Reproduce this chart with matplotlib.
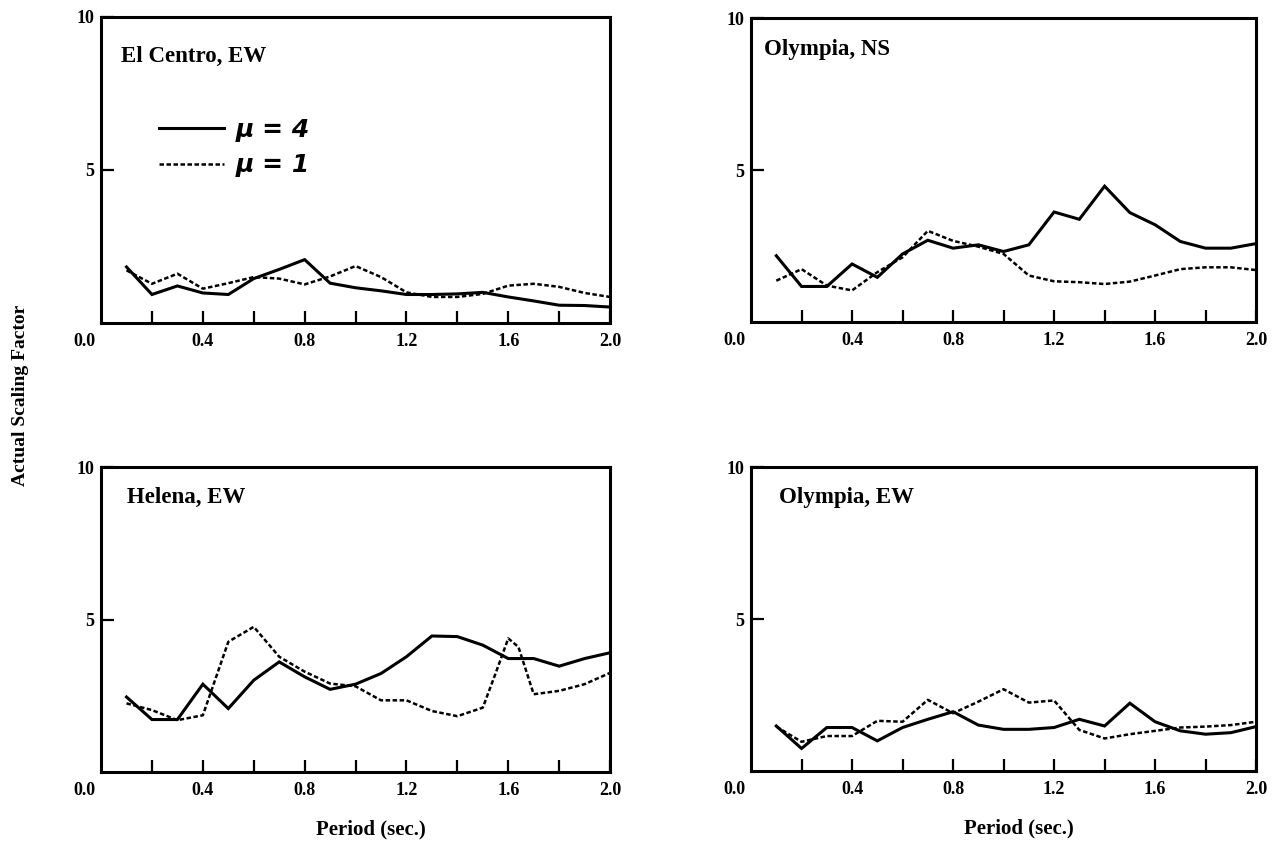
import matplotlib
matplotlib.use("Agg")
import matplotlib.pyplot as plt
from matplotlib.lines import Line2D

plt.rcParams['font.family'] = ['Liberation Serif', 'DejaVu Serif']

# periods (sec.) at which the scaling factors were computed
period = [0.1, 0.2, 0.3, 0.4, 0.5, 0.6, 0.7, 0.8, 0.9, 1.0,
          1.1, 1.2, 1.3, 1.4, 1.5, 1.6, 1.7, 1.8, 1.9, 2.0]

elcentro_mu4 = [1.83, 0.93, 1.21, 0.98, 0.93, 1.45, 1.75, 2.07, 1.30, 1.15,
                1.05, 0.93, 0.93, 0.95, 1.00, 0.85, 0.72, 0.58, 0.57, 0.52]
elcentro_mu1 = [1.72, 1.28, 1.61, 1.12, 1.30, 1.50, 1.45, 1.26, 1.52, 1.86,
                1.50, 1.00, 0.85, 0.85, 0.95, 1.22, 1.28, 1.18, 0.98, 0.85]

olyns_mu4 = [2.18, 1.17, 1.17, 1.91, 1.47, 2.24, 2.69, 2.43, 2.54, 2.32,
             2.54, 3.62, 3.38, 4.47, 3.60, 3.20, 2.65, 2.43, 2.43, 2.58]
olyns_mu1 = [1.36, 1.74, 1.20, 1.04, 1.64, 2.13, 3.00, 2.67, 2.48, 2.24,
             1.53, 1.34, 1.31, 1.25, 1.33, 1.53, 1.74, 1.80, 1.80, 1.71]

helena_mu4 = [2.46, 1.72, 1.72, 2.88, 2.08, 3.01, 3.61, 3.12, 2.71, 2.88,
              3.23, 3.78, 4.46, 4.44, 4.16, 3.72, 3.72, 3.47, 3.72, 3.91]
helena_period_mu1 = [0.1, 0.2, 0.3, 0.4, 0.5, 0.6, 0.7, 0.8, 0.9, 1.0, 1.1,
                     1.2, 1.3, 1.4, 1.5, 1.55, 1.6, 1.64, 1.7, 1.8, 1.9, 2.0]
helena_mu1 = [2.25, 2.03, 1.70, 1.86, 4.27, 4.76, 3.78, 3.29, 2.90, 2.81, 2.35,
              2.35, 2.00, 1.83, 2.11, 3.23, 4.38, 4.10, 2.55, 2.66, 2.88, 3.25]

olyew_mu4 = [1.48, 0.74, 1.43, 1.43, 0.99, 1.43, 1.70, 1.95, 1.51, 1.37,
             1.37, 1.43, 1.70, 1.48, 2.23, 1.62, 1.32, 1.21, 1.26, 1.46]
olyew_mu1 = [1.46, 0.96, 1.15, 1.15, 1.65, 1.62, 2.34, 1.90, 2.28, 2.69,
             2.25, 2.32, 1.35, 1.07, 1.21, 1.32, 1.43, 1.46, 1.51, 1.62]

panels = [
    ("El Centro, EW", period, elcentro_mu4, period, elcentro_mu1),
    ("Olympia, NS", period, olyns_mu4, period, olyns_mu1),
    ("Helena, EW", period, helena_mu4, helena_period_mu1, helena_mu1),
    ("Olympia, EW", period, olyew_mu4, period, olyew_mu1),
]

# axes boxes in figure fractions [left, bottom, width, height]
boxes = [
    [0.0792, 0.6196, 0.3989, 0.3604],
    [0.5886, 0.6207, 0.3958, 0.3580],
    [0.0792, 0.0907, 0.3989, 0.3592],
    [0.5886, 0.0919, 0.3958, 0.3580],
]
title_pos = [(0.04, 0.87), (0.025, 0.895), (0.05, 0.90), (0.055, 0.90)]

solid_kw = dict(color='black', lw=2.2, solid_joinstyle='miter')
dash_kw = dict(color='black', lw=1.8, linestyle=(0, (1.8, 1.0)))

fig = plt.figure(figsize=(12.76, 8.49), dpi=100)

for i, (name, x4, y4, x1, y1) in enumerate(panels):
    ax = fig.add_axes(boxes[i])
    ax.plot(x4, y4, **solid_kw)
    ax.plot(x1, y1, **dash_kw)

    ax.set_xlim(0, 2.0)
    ax.set_ylim(0, 10)
    for s in ax.spines.values():
        s.set_linewidth(2.2)

    ax.set_xticks([0.4, 0.8, 1.2, 1.6, 2.0])
    ax.set_xticklabels(['0.4', '0.8', '1.2', '1.6', '2.0'])
    ax.set_xticks([0.2, 0.6, 1.0, 1.4, 1.8], minor=True)
    ax.tick_params(axis='x', which='both', direction='in', length=9, width=1.6,
                   top=False, pad=7, labelsize=13)
    ax.set_yticks([5, 10])
    ax.set_yticklabels(['5', '10'])
    ax.tick_params(axis='y', direction='in', length=9, width=1.6,
                   right=False, pad=5, labelsize=13)
    for lab in ax.get_xticklabels() + ax.get_yticklabels():
        lab.set_fontweight('bold')

    # the 0.0 label sits left of the origin
    ax.text(-0.065, -0.062, '0.0', transform=ax.get_xaxis_transform(),
            ha='center', va='center', fontsize=13, fontweight='bold')

    ax.text(title_pos[i][0], title_pos[i][1], name, transform=ax.transAxes,
            ha='left', va='center', fontsize=16.5, fontweight='bold')

    if i >= 2:
        ax.set_xlabel('Period (sec.)', fontsize=15, fontweight='bold',
                      labelpad=15, x=0.53)

    if i == 0:
        handles = [Line2D([], [], **solid_kw), Line2D([], [], **dash_kw)]
        ax.legend(handles, ['μ = 4', 'μ = 1'], loc='upper left',
                  bbox_to_anchor=(0.09, 0.71), frameon=False, borderpad=0,
                  handlelength=2.6, handletextpad=0.45, labelspacing=0.45,
                  prop=dict(family='DejaVu Sans', weight='bold',
                            style='italic', size=18))

fig.text(21 / 1276, 1 - 395 / 849, 'Actual Scaling Factor', rotation=90,
         ha='center', va='center', fontsize=14, fontweight='bold')

fig.savefig('out.png', dpi=100)
